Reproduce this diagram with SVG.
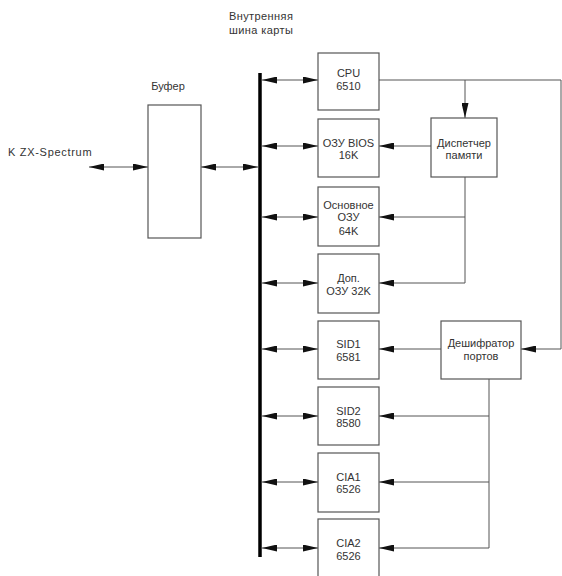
<svg xmlns="http://www.w3.org/2000/svg" width="562" height="576" viewBox="0 0 562 576">
<style>
  text { font-family: "Liberation Sans", "DejaVu Sans", sans-serif; font-size: 11px; fill: #333; text-anchor: middle; }
  .lbl { text-anchor: start; letter-spacing: 0.4px; }
  .box { fill: #fff; stroke: #555; stroke-width: 1.2; }
  .wire { fill: none; stroke: #555; stroke-width: 1; }
  .bus { fill: none; stroke: #000; stroke-width: 3.5; }
</style>
<defs>
  <marker id="ah" viewBox="0 0 15 7" refX="15" refY="3.5" markerWidth="15" markerHeight="7" markerUnits="userSpaceOnUse" orient="auto-start-reverse">
    <path d="M0,0 L15,3.5 L0,7 z" fill="#111"/>
  </marker>
</defs>
<rect width="562" height="576" fill="#fff"/>

<g id="labels">
  <text class="lbl" x="229" y="20">Внутренняя</text>
  <text class="lbl" x="229" y="34">шина карты</text>
  <text class="lbl" x="8" y="156" textLength="84">K ZX-Spectrum</text>
  <text x="168" y="90">Буфер</text>
</g>

<g id="connectors">
  <line class="bus" x1="260" y1="73" x2="260" y2="557"/>
  <path class="wire" d="M89,167 H148" marker-start="url(#ah)" marker-end="url(#ah)"/>
  <path class="wire" d="M201,167 H258" marker-start="url(#ah)" marker-end="url(#ah)"/>
  <path class="wire" d="M262,80 H318" marker-start="url(#ah)" marker-end="url(#ah)"/>
  <path class="wire" d="M262,146 H318" marker-start="url(#ah)" marker-end="url(#ah)"/>
  <path class="wire" d="M262,217 H318" marker-start="url(#ah)" marker-end="url(#ah)"/>
  <path class="wire" d="M262,283 H318" marker-start="url(#ah)" marker-end="url(#ah)"/>
  <path class="wire" d="M262,349 H318" marker-start="url(#ah)" marker-end="url(#ah)"/>
  <path class="wire" d="M262,416 H318" marker-start="url(#ah)" marker-end="url(#ah)"/>
  <path class="wire" d="M262,482 H318" marker-start="url(#ah)" marker-end="url(#ah)"/>
  <path class="wire" d="M262,548 H318" marker-start="url(#ah)" marker-end="url(#ah)"/>
  <path class="wire" d="M379,80 H561 V349 H521" marker-end="url(#ah)"/>
  <path class="wire" d="M465,80 V118" marker-end="url(#ah)"/>
  <path class="wire" d="M431,146 H379" marker-end="url(#ah)"/>
  <path class="wire" d="M465,177 V283 H379" marker-end="url(#ah)"/>
  <path class="wire" d="M465,217 H379" marker-end="url(#ah)"/>
  <path class="wire" d="M441,349 H379" marker-end="url(#ah)"/>
  <path class="wire" d="M489,379 V548 H379" marker-end="url(#ah)"/>
  <path class="wire" d="M489,416 H379" marker-end="url(#ah)"/>
  <path class="wire" d="M489,482 H379" marker-end="url(#ah)"/>
</g>

<g id="buffer"><rect class="box" x="148" y="105" width="53" height="133"/></g>

<g id="cpu"><rect class="box" x="318" y="53" width="61" height="57"/>
  <text x="348.5" y="77">CPU</text><text x="348.5" y="90">6510</text></g>
<g id="bios"><rect class="box" x="318" y="119" width="61" height="58"/>
  <text x="348.5" y="147">ОЗУ BIOS</text><text x="348.5" y="159">16K</text></g>
<g id="main-ram"><rect class="box" x="318" y="187" width="61" height="59"/>
  <text x="348.5" y="209">Основное</text><text x="348.5" y="221">ОЗУ</text><text x="348.5" y="235">64K</text></g>
<g id="ext-ram"><rect class="box" x="318" y="254" width="61" height="59"/>
  <text x="348.5" y="282">Доп.</text><text x="348.5" y="295">ОЗУ 32K</text></g>
<g id="sid1"><rect class="box" x="318" y="321" width="61" height="58"/>
  <text x="348.5" y="348">SID1</text><text x="348.5" y="361">6581</text></g>
<g id="sid2"><rect class="box" x="318" y="387" width="61" height="58"/>
  <text x="348.5" y="415">SID2</text><text x="348.5" y="427">8580</text></g>
<g id="cia1"><rect class="box" x="318" y="453" width="61" height="59"/>
  <text x="348.5" y="481">CIA1</text><text x="348.5" y="493">6526</text></g>
<g id="cia2"><rect class="box" x="318" y="519" width="61" height="62"/>
  <text x="348.5" y="547">CIA2</text><text x="348.5" y="560">6526</text></g>

<g id="mem-dispatcher"><rect class="box" x="431" y="118" width="66" height="59"/>
  <text x="464" y="147">Диспетчер</text><text x="464" y="159">памяти</text></g>
<g id="port-decoder"><rect class="box" x="441" y="321" width="80" height="58"/>
  <text x="481" y="347">Дешифратор</text><text x="481" y="360">портов</text></g>
</svg>
